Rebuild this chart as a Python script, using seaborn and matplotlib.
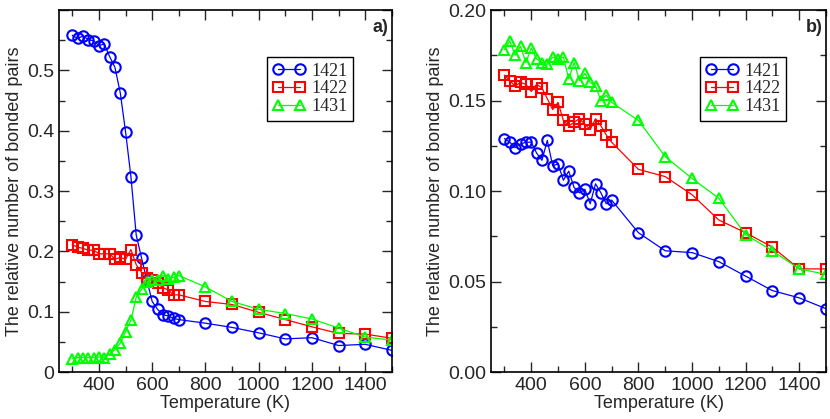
import matplotlib
matplotlib.use("Agg")
import matplotlib.pyplot as plt
import seaborn as sns
from matplotlib.ticker import MultipleLocator

temps = [300, 320, 340, 360, 380, 400, 420, 440, 460, 480, 500, 520, 540, 560,
         580, 600, 620, 640, 660, 680, 700, 800, 900, 1000, 1100, 1200, 1300,
         1400, 1500]

series_names = ["1421", "1422", "1431"]

# panel a)
a_1421 = [0.558, 0.553, 0.557, 0.551, 0.549, 0.541, 0.544, 0.523, 0.505, 0.463,
          0.398, 0.324, 0.227, 0.189, 0.152, 0.117, 0.104, 0.095, 0.093, 0.089,
          0.087, 0.081, 0.074, 0.065, 0.055, 0.057, 0.044, 0.046, 0.036]
a_1422 = [0.211, 0.207, 0.205, 0.202, 0.202, 0.196, 0.196, 0.196, 0.187, 0.190,
          0.187, 0.203, 0.178, 0.165, 0.156, 0.153, 0.147, 0.140, 0.136, 0.128,
          0.128, 0.117, 0.112, 0.099, 0.087, 0.075, 0.064, 0.063, 0.056]
a_1431 = [0.022, 0.024, 0.024, 0.024, 0.024, 0.025, 0.024, 0.030, 0.037, 0.048,
          0.067, 0.086, 0.124, 0.137, 0.150, 0.153, 0.152, 0.160, 0.154, 0.157,
          0.160, 0.141, 0.117, 0.104, 0.097, 0.088, 0.073, 0.058, 0.053]

# panel b)
b_1421 = [0.129, 0.127, 0.124, 0.126, 0.127, 0.127, 0.121, 0.117, 0.128, 0.114,
          0.115, 0.106, 0.111, 0.102, 0.099, 0.101, 0.093, 0.104, 0.099, 0.093,
          0.095, 0.077, 0.067, 0.066, 0.061, 0.053, 0.045, 0.041, 0.035]
b_1422 = [0.164, 0.161, 0.158, 0.160, 0.159, 0.155, 0.159, 0.157, 0.151, 0.145,
          0.149, 0.139, 0.136, 0.138, 0.140, 0.137, 0.134, 0.140, 0.136, 0.131,
          0.127, 0.112, 0.108, 0.098, 0.084, 0.077, 0.069, 0.057, 0.057]
b_1431 = [0.178, 0.183, 0.175, 0.180, 0.171, 0.179, 0.173, 0.171, 0.170, 0.174,
          0.173, 0.174, 0.162, 0.171, 0.161, 0.165, 0.160, 0.158, 0.150, 0.153,
          0.149, 0.139, 0.119, 0.107, 0.096, 0.076, 0.067, 0.057, 0.054]

COLORS = ["#0000ff", "#ff0000", "#00ff00"]
MARKERS = ["o", "s", "^"]
SIZES = [7.5, 6.5, 7.5]


def draw_panel(ax, values, ymax, ymajor, tag, yfmt):
    for name, vals, c, m, ms in zip(series_names, values, COLORS, MARKERS, SIZES):
        sns.lineplot(x=temps, y=vals, ax=ax, color=c, marker=m, markersize=ms,
                     markerfacecolor="none", markeredgecolor=c,
                     markeredgewidth=1.5, linewidth=0.9, label=name)
    ax.set_xlim(250, 1500)
    ax.set_ylim(0, ymax)
    ax.xaxis.set_major_locator(MultipleLocator(200))
    ax.xaxis.set_minor_locator(MultipleLocator(100))
    ax.yaxis.set_major_locator(MultipleLocator(ymajor))
    ax.yaxis.set_minor_locator(MultipleLocator(ymajor / 2))
    ax.yaxis.set_major_formatter(yfmt)
    ax.tick_params(which="both", direction="in", top=True, right=True,
                   labelsize=14)
    ax.tick_params(which="major", length=7, width=1.0)
    ax.tick_params(which="minor", length=4, width=1.0)
    ax.set_xticks([400, 600, 800, 1000, 1200, 1400])
    ax.set_xlabel("Temperature (K)", fontsize=13, labelpad=1)
    ax.set_ylabel("The relative number of bonded pairs", fontsize=13, labelpad=3)
    for sp in ax.spines.values():
        sp.set_linewidth(1.2)
        sp.set_color("black")
    ax.text(0.99, 0.952, tag, transform=ax.transAxes, ha="right", va="center",
            fontsize=13, fontweight="bold")
    leg = ax.legend(loc="upper left", bbox_to_anchor=(0.625, 0.87),
                    frameon=True, fancybox=False, edgecolor="black",
                    framealpha=1, numpoints=2, handlelength=1.8,
                    handletextpad=0.35, labelspacing=0.05, borderpad=0.3,
                    borderaxespad=0,
                    prop={"family": "Liberation Serif", "size": 13})
    leg.get_frame().set_linewidth(1.0)


def fmt_a(v, p):
    if abs(v) < 1e-9:
        return "0"
    if v > 0.55:
        return ""
    return f"{v:.1f}"


def main():
    sns.set_style("ticks")
    plt.rcParams["font.family"] = ["Liberation Sans", "DejaVu Sans"]

    fig = plt.figure(figsize=(8.3, 4.19), dpi=100)
    ax_a = fig.add_axes([0.0711, 0.112, 0.401, 0.864])
    ax_b = fig.add_axes([0.5916, 0.112, 0.4036, 0.864])

    draw_panel(ax_a, [a_1421, a_1422, a_1431], 0.6, 0.1, "a)", fmt_a)
    draw_panel(ax_b, [b_1421, b_1422, b_1431], 0.2, 0.05, "b)",
               lambda v, p: f"{v:.2f}")

    fig.savefig("out.png", dpi=100)
    plt.close(fig)


if __name__ == "__main__":
    main()
